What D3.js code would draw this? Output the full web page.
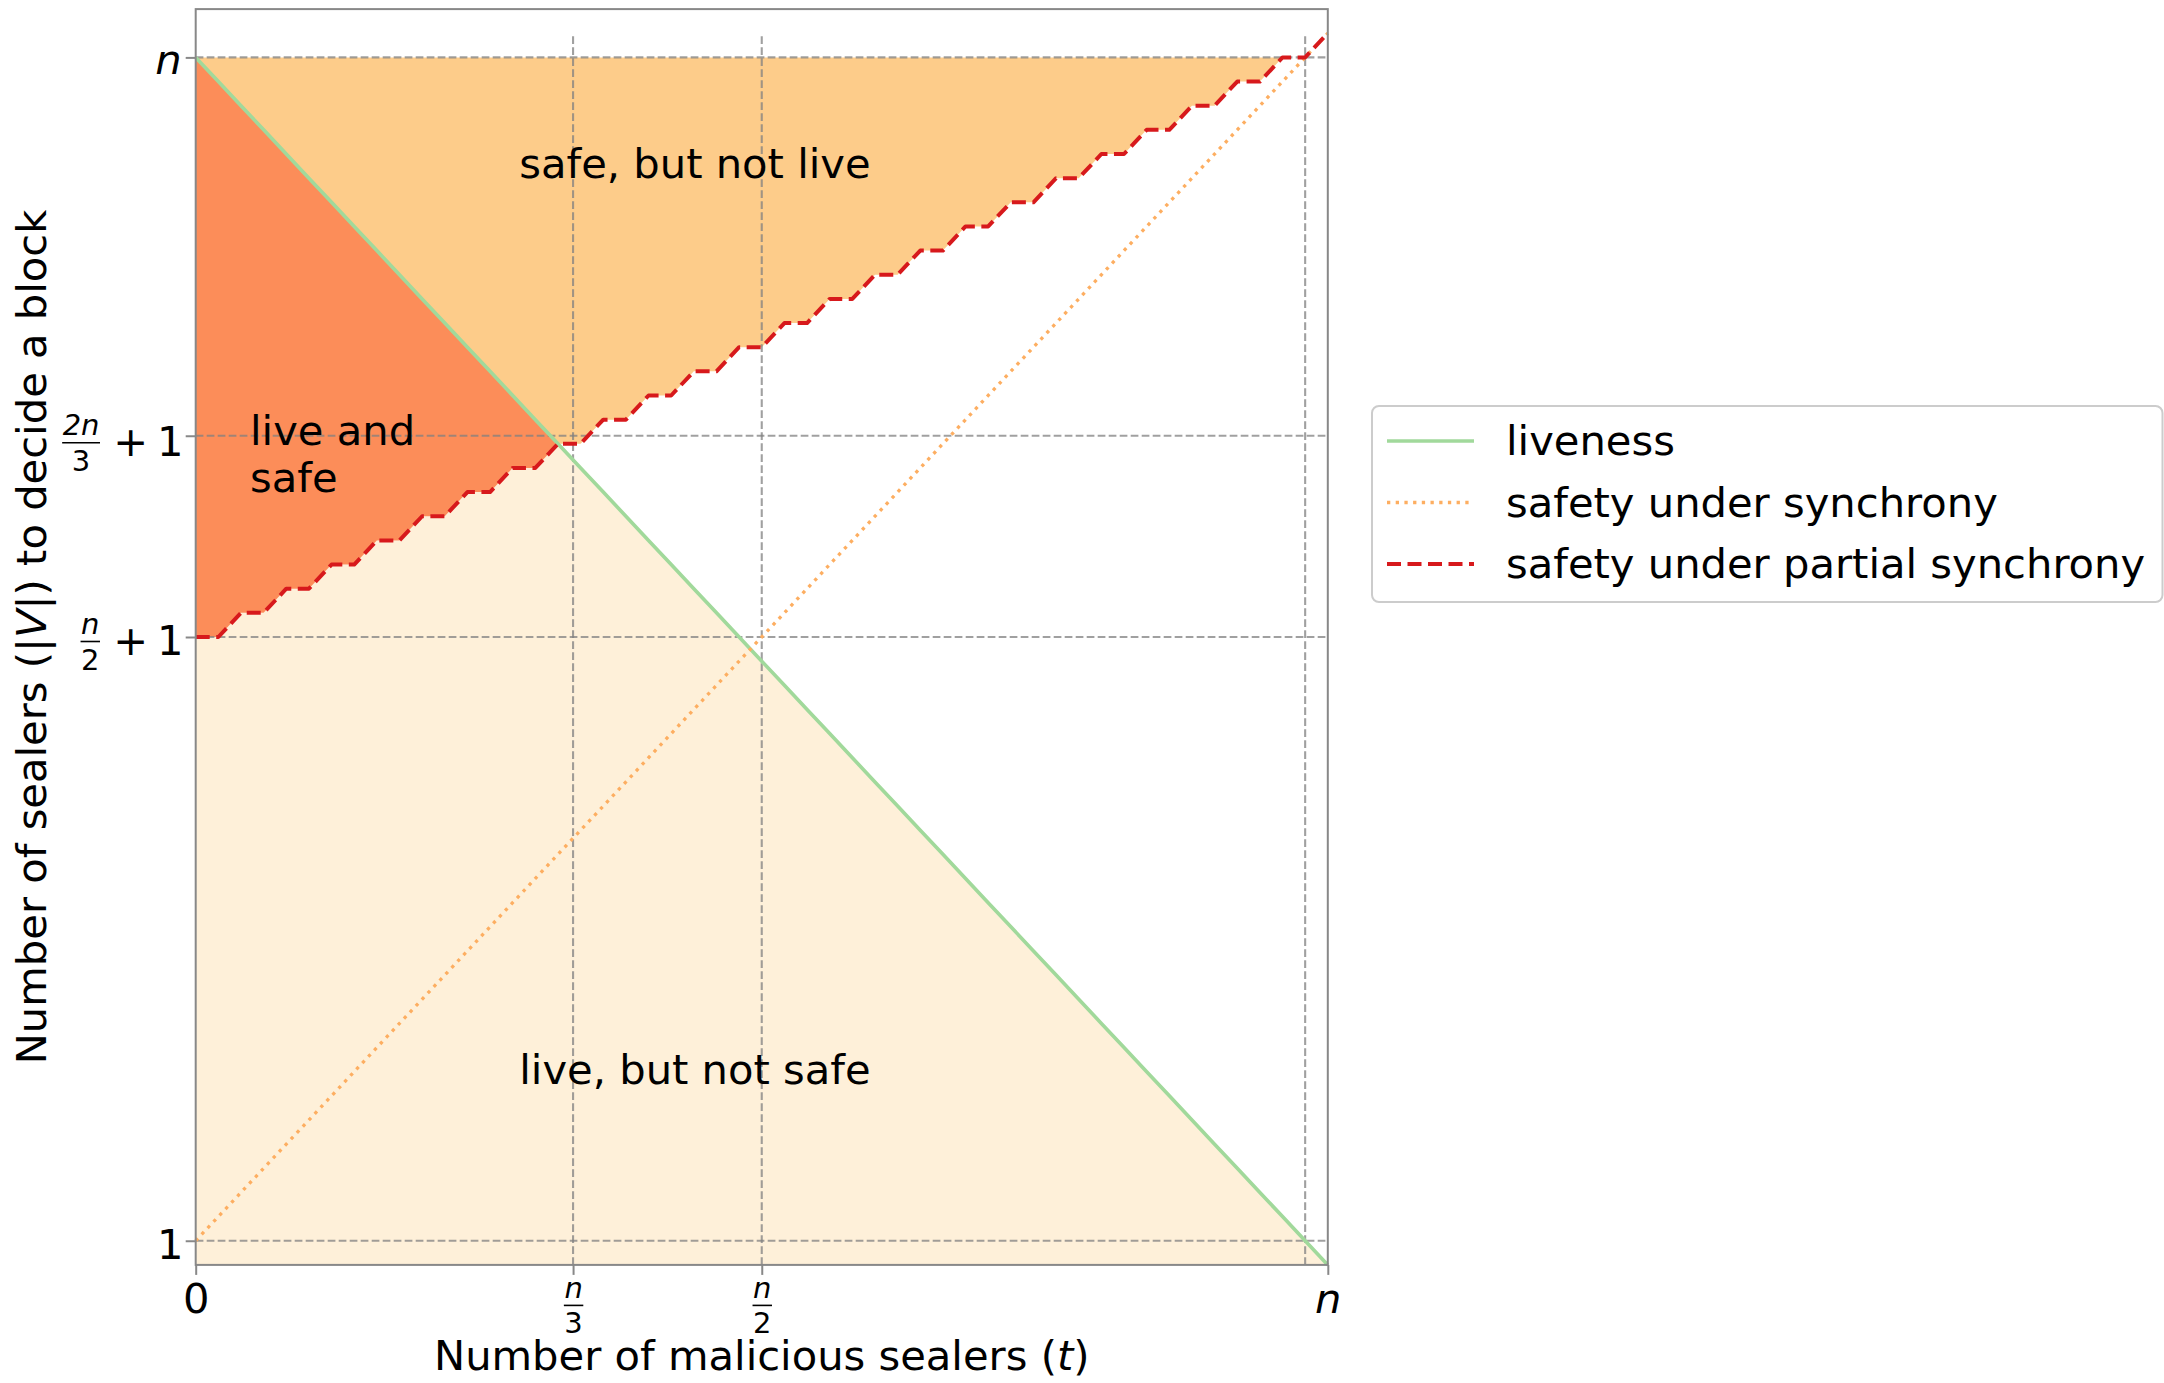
<!DOCTYPE html>
<html>
<head>
<meta charset="utf-8">
<script src="https://cdn.jsdelivr.net/npm/d3@7"></script>
<style>
  html, body { margin: 0; padding: 0; background: #ffffff; }
  svg { display: block; font-family: "DejaVu Sans", sans-serif; }
  svg text { fill: #000000; font-family: "DejaVu Sans", sans-serif; }
</style>
</head>
<body>
<svg id="chart" width="2164" height="1383"></svg>
<script>
// ---- data -------------------------------------------------------------
const n = 50;                                   // number of sealers
const tDomain = [0, 50];                        // malicious sealers axis extent
const vDomain = [0, 52];                        // sealers-to-decide axis extent

// malicious sealers t = 0 .. n
const tValues = [0,1,2,3,4,5,6,7,8,9,10,11,12,13,14,15,16,17,18,19,20,21,22,23,24,25,
                 26,27,28,29,30,31,32,33,34,35,36,37,38,39,40,41,42,43,44,45,46,47,48,49,50];

// liveness bound: honest sealers left to reach a decision
const liveness = [50,49,48,47,46,45,44,43,42,41,40,39,38,37,36,35,34,33,32,31,30,29,28,27,26,25,
                  24,23,22,21,20,19,18,17,16,15,14,13,12,11,10,9,8,7,6,5,4,3,2,1,0];

// safety under partial synchrony (staircase)
const partialSync = [26,26,27,27,28,28,29,29,30,30,31,31,32,32,33,33,34,34,35,35,36,36,37,37,38,38,
                     39,39,40,40,41,41,42,42,43,43,44,44,45,45,46,46,47,47,48,48,49,49,50,50,51];

// safety under synchrony: straight line between its end points
const syncT = [0, 50];
const syncV = [1, 51];

// axis ticks
const xTickValues = [0, 16.667, 25, 50];
const xTickLabels = [{ text: "0" }, { num: "n", den: "3" }, { num: "n", den: "2" }, { text: "n", italic: true }];
const yTickValues = [50, 34.333, 26, 1];
const yTickLabels = [{ text: "n", italic: true, dy: 16 }, { num: "2n", den: "3", tail: true, dy: 19.5 },
                     { num: "n", den: "2", tail: true, dy: 17 }, { text: "1", dy: 17.3 }];

// reference lines
const hGridValues = [1, 26, 34.333, 50];
const vGridValues = [16.667, 25, 49];
const vGridTop = 51;

// region annotations (data coordinates of the text baseline)
const regionLabels = [
  { lines: ["safe, but not live"], t: 22.05, v: 45.0, anchor: "middle" },
  { lines: ["live, but not safe"], t: 22.05, v: 7.47, anchor: "middle" },
  { lines: ["live and", "safe"], t: 2.4, v: 33.95, anchor: "start" }
];

const legendItems = [
  { label: "liveness", key: "live" },
  { label: "safety under synchrony", key: "sync" },
  { label: "safety under partial synchrony", key: "partial" }
];

// ---- styles -----------------------------------------------------------
const FS = 41.67, FS_FRAC = 29;
const colors = {
  liveSafe: "#fc8d59", safeNotLive: "#fdcc8a", liveNotSafe: "#fef0d9",
  live: "#a1d99b", sync: "#fdae61", partial: "#d7191c",
  grid: "#808080", spine: "#888888"
};
const lineStyles = {
  live:    { stroke: colors.live, width: 3.6, dash: null, cap: "butt" },
  sync:    { stroke: colors.sync, width: 3.3, dash: "3.3,5.4", cap: "butt" },
  partial: { stroke: colors.partial, width: 4, dash: "14,6.5", cap: "butt" }
};

// ---- scales -----------------------------------------------------------
const x = d3.scaleLinear().domain(tDomain).range([195.7, 1327.8]);
const y = d3.scaleLinear().domain(vDomain).range([1264.9, 9.1]);

const svg = d3.select("#chart");
const plot = svg.append("g");

const rows = tValues.map((t, i) => ({ t, live: liveness[i], part: partialSync[i] }));
const band = d3.area().x(d => x(d.t)).y0(d => y(d.lo)).y1(d => y(d.hi));

// regions
plot.append("path")
  .attr("d", band(rows.map(r => ({ t: r.t, lo: 0, hi: Math.min(r.live, r.part) }))))
  .attr("fill", colors.liveNotSafe);
plot.append("path")
  .attr("d", band(rows.map(r => ({ t: r.t, lo: Math.min(n, Math.max(r.live, r.part)), hi: n }))))
  .attr("fill", colors.safeNotLive);
plot.append("path")
  .attr("d", band(rows.filter(r => r.live >= r.part).map(r => ({ t: r.t, lo: r.part, hi: r.live }))))
  .attr("fill", colors.liveSafe);

// dashed reference lines
const grid = plot.append("g")
  .attr("stroke", colors.grid).attr("stroke-opacity", 0.75)
  .attr("stroke-width", 2.1).attr("stroke-dasharray", "7.7,3.3").attr("fill", "none");
grid.selectAll("line.h").data(hGridValues).join("line").attr("class", "h")
  .attr("x1", x(tDomain[0])).attr("x2", x(tDomain[1]))
  .attr("y1", d => y(d)).attr("y2", d => y(d));
grid.selectAll("line.v").data(vGridValues).join("line").attr("class", "v")
  .attr("x1", d => x(d)).attr("x2", d => x(d))
  .attr("y1", y(0)).attr("y2", y(vGridTop));

// curves
function styled(sel, key) {
  const s = lineStyles[key];
  sel.attr("fill", "none").attr("stroke", s.stroke).attr("stroke-width", s.width)
     .attr("stroke-linecap", s.cap).attr("stroke-linejoin", "round");
  if (s.dash) sel.attr("stroke-dasharray", s.dash);
  return sel;
}
const line = d3.line().x(d => x(d[0])).y(d => y(d[1]));
styled(plot.append("path").attr("d", line(tValues.map((t, i) => [t, liveness[i]]))), "live");
styled(plot.append("path").attr("d", line(syncT.map((t, i) => [t, syncV[i]]))), "sync");
styled(plot.append("path").attr("d", line(tValues.map((t, i) => [t, partialSync[i]]))), "partial");

// spines
plot.append("rect")
  .attr("x", x(tDomain[0])).attr("y", y(vDomain[1]))
  .attr("width", x(tDomain[1]) - x(tDomain[0])).attr("height", y(vDomain[0]) - y(vDomain[1]))
  .attr("fill", "none").attr("stroke", colors.spine).attr("stroke-width", 2);

// ---- axes ---------------------------------------------------------------
function styleAxis(g) {
  g.attr("fill", "#000").attr("font-family", null).attr("font-size", null);
  g.select(".domain").remove();
  g.selectAll(".tick line").attr("stroke", colors.spine).attr("stroke-width", 2);
  g.selectAll(".tick text").remove();
}

// fraction helper: draws num / den centred at cx with bar at barY (local coords)
function fraction(g, spec, cx, barY) {
  const num = g.append("text").attr("x", cx).attr("y", barY - 7.5).attr("text-anchor", "middle")
    .attr("font-size", FS_FRAC).attr("font-style", "italic").attr("fill", "#000").text(spec.num);
  const den = g.append("text").attr("x", cx).attr("y", barY + 28).attr("text-anchor", "middle")
    .attr("font-size", FS_FRAC).attr("fill", "#000").text(spec.den);
  const w = Math.max(num.node().getComputedTextLength(), den.node().getComputedTextLength()) + 1;
  g.append("line").attr("x1", cx - w / 2).attr("x2", cx + w / 2)
    .attr("y1", barY).attr("y2", barY).attr("stroke", "#000").attr("stroke-width", 1.6);
  return w;
}

const xAxis = svg.append("g").attr("transform", `translate(0,${y(vDomain[0])})`)
  .call(d3.axisBottom(x).tickValues(xTickValues).tickSize(10).tickFormat(""));
styleAxis(xAxis);
xAxis.selectAll(".tick").each(function (d, i) {
  const g = d3.select(this), spec = xTickLabels[i];
  if (spec.text) {
    g.append("text").attr("x", 0).attr("y", 48).attr("text-anchor", "middle")
      .attr("font-size", FS).attr("font-style", spec.italic ? "italic" : null)
      .attr("fill", "#000").text(spec.text);
  } else {
    fraction(g, spec, 0, 40.5);
  }
});

const yAxis = svg.append("g").attr("transform", `translate(${x(tDomain[0])},0)`)
  .call(d3.axisLeft(y).tickValues(yTickValues).tickSize(10).tickFormat(""));
styleAxis(yAxis);
yAxis.selectAll(".tick").each(function (d, i) {
  const g = d3.select(this), spec = yTickLabels[i];
  if (spec.text) {
    g.append("text").attr("x", spec.italic ? -14 : -12.2).attr("y", spec.dy)
      .attr("text-anchor", "end").attr("font-size", FS).attr("fill", "#000")
      .attr("font-style", spec.italic ? "italic" : null).text(spec.text);
  } else {
    const base = spec.dy;
    g.append("text").attr("x", -12.2).attr("y", base).attr("text-anchor", "end")
      .attr("font-size", FS).attr("fill", "#000").text("1");
    g.append("text").attr("x", -65).attr("y", base).attr("text-anchor", "middle")
      .attr("font-size", FS).attr("fill", "#000").text("+");
    // measure then centre the fraction so its right edge sits at a fixed offset
    const tmp = g.append("g");
    const w = fraction(tmp, spec, 0, base - 13);
    tmp.attr("transform", `translate(${-95.7 - w / 2},0)`);
  }
});

// axis titles
svg.append("text").attr("x", (x(tDomain[0]) + x(tDomain[1])) / 2).attr("y", 1369.5)
  .attr("text-anchor", "middle").attr("font-size", FS)
  .call(t => {
    t.append("tspan").text("Number of malicious sealers (");
    t.append("tspan").attr("font-style", "italic").text("t");
    t.append("tspan").text(")");
  });
svg.append("text")
  .attr("transform", `translate(45.5,${(y(vDomain[0]) + y(vDomain[1])) / 2}) rotate(-90)`)
  .attr("text-anchor", "middle").attr("font-size", FS)
  .call(t => {
    t.append("tspan").text("Number of sealers (|");
    t.append("tspan").attr("font-style", "italic").text("V");
    t.append("tspan").text("|) to decide a block");
  });

// region annotations
regionLabels.forEach(r => {
  const txt = svg.append("text").attr("font-size", FS).attr("text-anchor", r.anchor);
  r.lines.forEach((s, k) => {
    txt.append("tspan").attr("x", x(r.t)).attr("y", y(r.v) + k * 46.7).text(s);
  });
});

// ---- legend -------------------------------------------------------------
const legend = svg.append("g");
legend.append("rect")
  .attr("x", 1372).attr("y", 406).attr("width", 790.5).attr("height", 196)
  .attr("rx", 7).attr("fill", "#ffffff").attr("fill-opacity", 0.8)
  .attr("stroke", "#cccccc").attr("stroke-width", 2);
legendItems.forEach((item, i) => {
  const cy = 441 + i * 61.5;
  styled(legend.append("line").attr("x1", 1387).attr("x2", 1474).attr("y1", cy).attr("y2", cy), item.key);
  legend.append("text").attr("x", 1506).attr("y", cy + 14.2).attr("font-size", FS).text(item.label);
});
</script>
</body>
</html>
